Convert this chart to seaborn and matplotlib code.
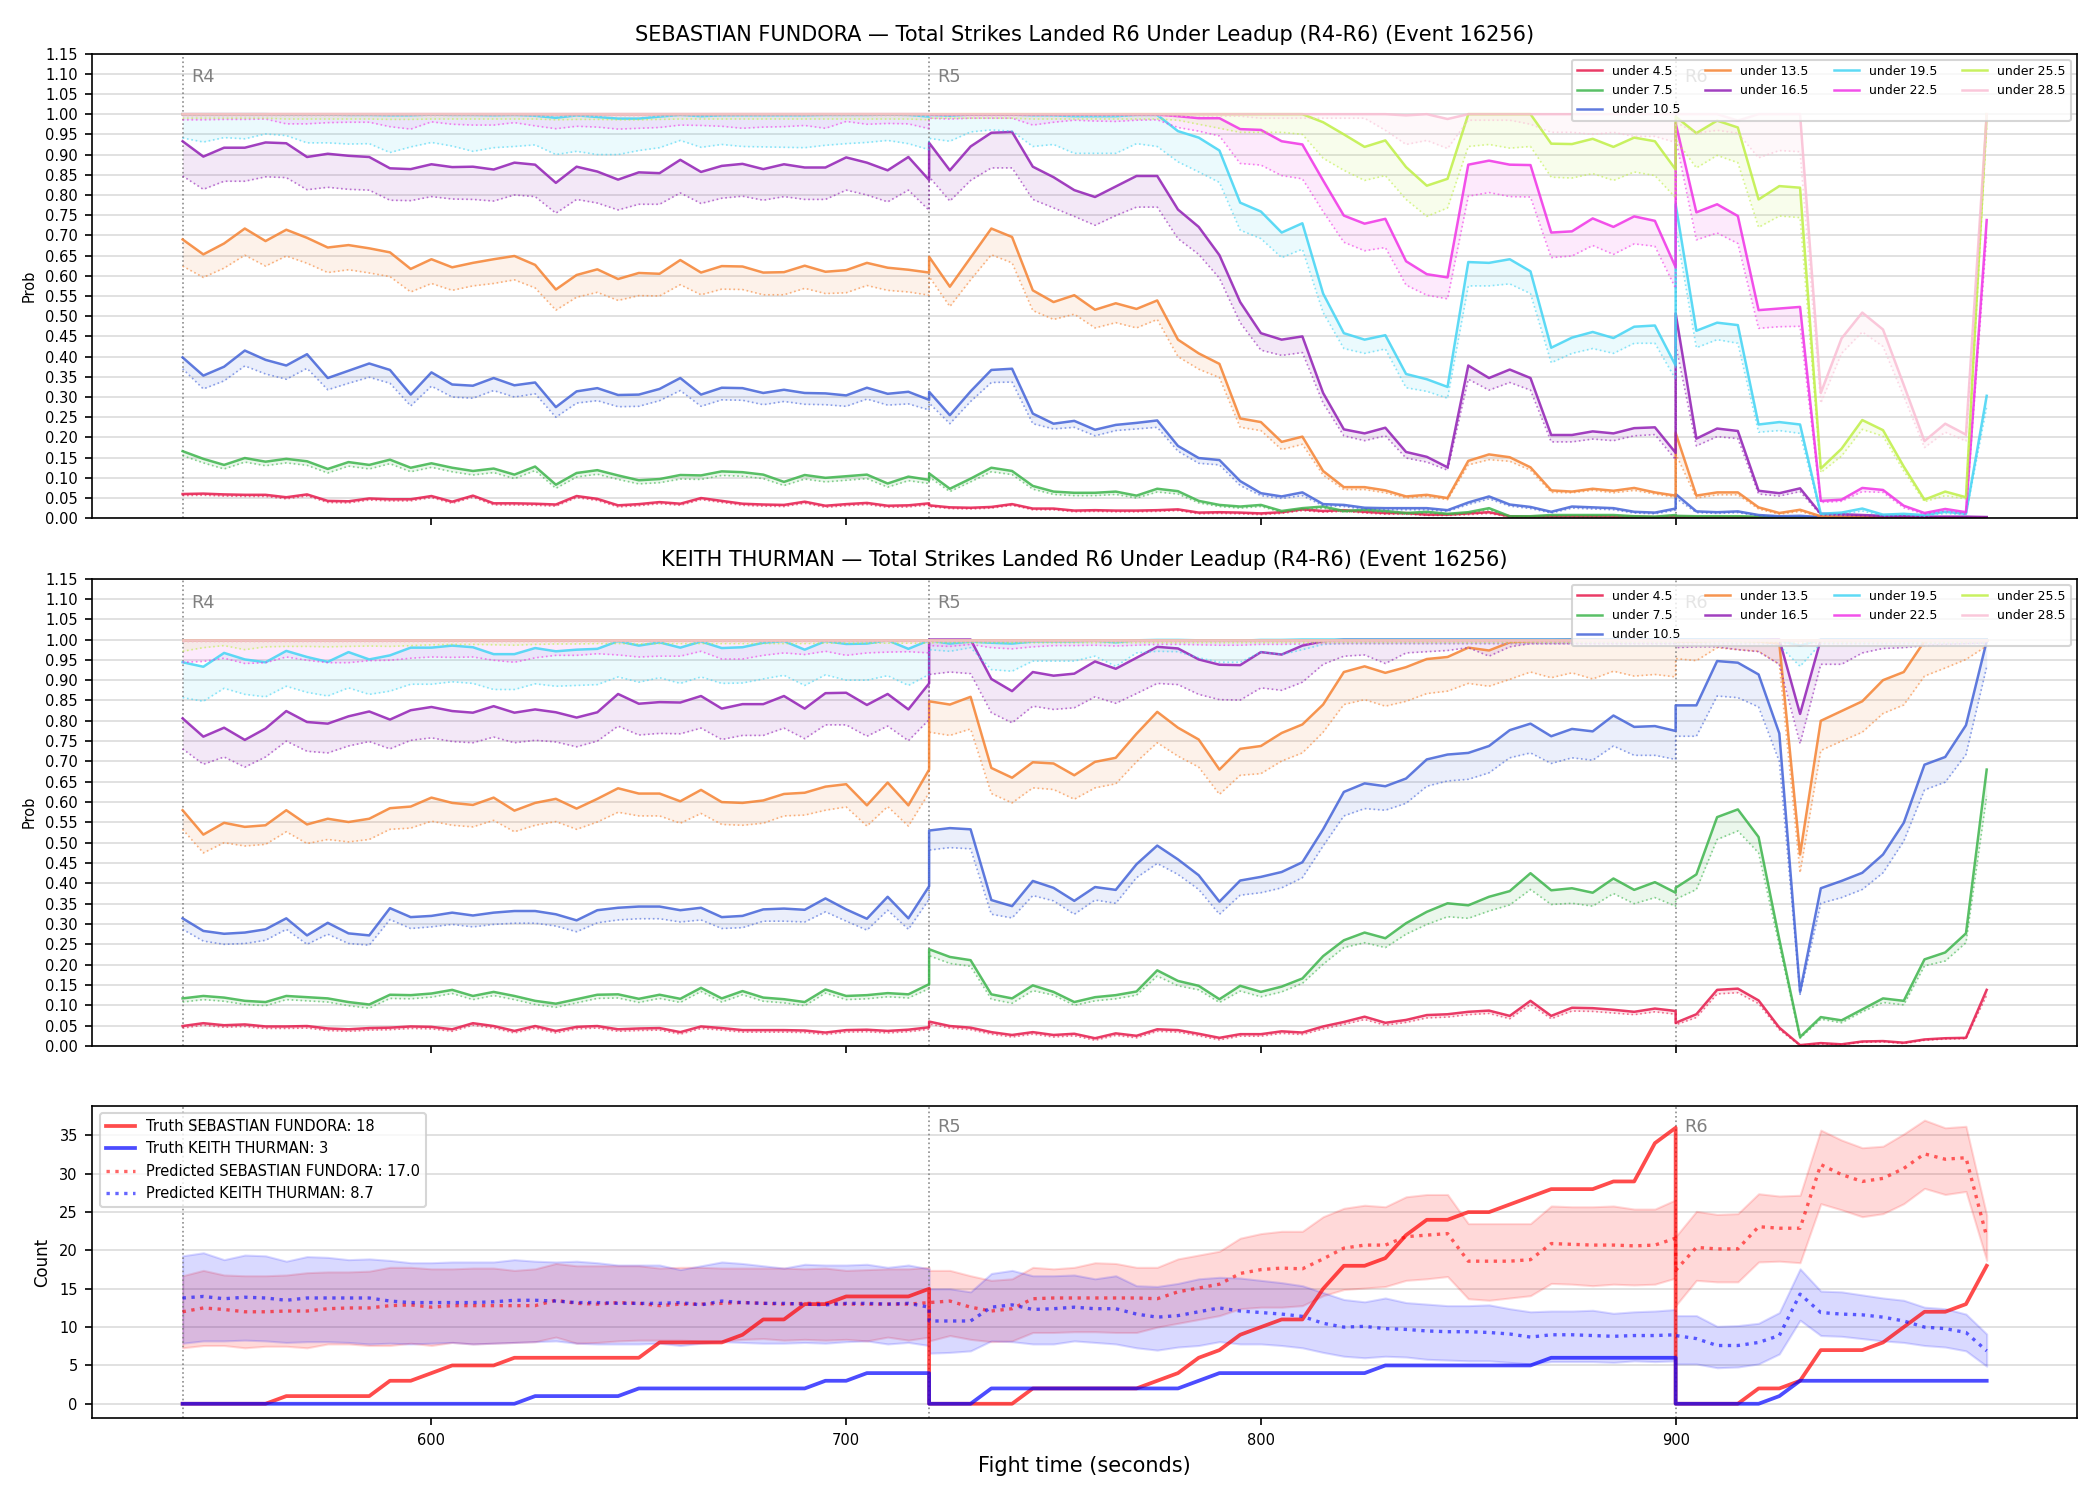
#!/usr/bin/env python3
"""
Total strikes landed R6 under leadup (R4-R6), event 16256
"""

import numpy as np
import matplotlib
matplotlib.use("Agg")
import matplotlib.pyplot as plt
import matplotlib.transforms as mtransforms
from matplotlib.ticker import FormatStrFormatter
import seaborn as sns

# fight time in seconds (5 s steps, each round restarts at its first second)
t_r4 = list(range(540, 721, 5))
t_r5 = list(range(720, 901, 5))
t_r6 = list(range(900, 976, 5))
fight_time = t_r4 + t_r5 + t_r6

round_starts = [540, 720, 900]
round_names = ['R4', 'R5', 'R6']

thresholds = [4.5, 7.5, 10.5, 13.5, 16.5, 19.5, 22.5, 25.5, 28.5]
line_colors = ['#e6194b', '#3cb44b', '#4363d8', '#f58231', '#911eb4',
               '#42d4f4', '#f032e6', '#bfef45', '#fabed4']

# ---------------- SEBASTIAN FUNDORA: prob (upper solid / lower dotted) ----------------
sf_hi_45 = ([.060, .061, .059, .058, .058, .052, .059, .043, .042, .049, .047, .047, .055, .041, .056, .037, .037, .036, .034, .055, .048, .032, .035, .040, .036, .050, .043, .036, .034, .033, .041, .031, .035, .038, .031, .032, .037]
            + [.032, .027, .026, .028, .035, .024, .024, .019, .020, .019, .019, .020, .022, .014, .015, .014, .012, .015, .022, .018, .020, .016, .013, .013, .009, .009, .012, .015, .005, .004, .005, .005, .005, .004, .004, .003, .005]
            + [.004, .003, .003, .003, .002, .002, .002, .001, .001, .001, .001, .001, .001, .001, .001, .001])
sf_lo_45 = ([.056, .057, .055, .054, .054, .048, .055, .039, .038, .045, .043, .043, .051, .037, .052, .033, .033, .032, .030, .051, .044, .028, .031, .036, .032, .046, .039, .032, .030, .029, .037, .027, .031, .034, .027, .028, .033]
            + [.029, .024, .023, .025, .032, .021, .021, .016, .017, .016, .016, .017, .019, .011, .012, .011, .009, .012, .019, .015, .017, .013, .010, .010, .007, .007, .009, .012, .003, .002, .003, .003, .003, .002, .002, .001, .003]
            + [.002, .001, .001, .001, .001, .001, .001, .000, .000, .000, .000, .000, .000, .000, .000, .000])

sf_hi_75 = ([.166, .147, .132, .149, .140, .147, .141, .122, .139, .132, .145, .125, .136, .125, .117, .123, .108, .128, .083, .112, .119, .106, .094, .097, .107, .106, .116, .114, .108, .090, .107, .100, .104, .108, .086, .103, .095]
            + [.111, .073, .098, .125, .117, .080, .066, .063, .063, .066, .056, .073, .067, .043, .033, .029, .033, .018, .025, .029, .018, .021, .018, .013, .016, .011, .015, .025, .005, .005, .008, .008, .008, .008, .005, .004, .008]
            + [.006, .005, .005, .005, .004, .003, .002, .002, .002, .002, .002, .002, .002, .002, .002, .002])
sf_lo_75 = ([.155, .137, .122, .139, .130, .137, .131, .112, .129, .122, .135, .115, .126, .115, .107, .113, .098, .118, .074, .102, .109, .096, .085, .088, .097, .096, .106, .104, .098, .081, .097, .090, .094, .098, .077, .093, .086]
            + [.102, .066, .090, .115, .108, .072, .059, .056, .056, .059, .050, .065, .060, .038, .029, .025, .029, .015, .021, .025, .015, .018, .015, .010, .013, .009, .012, .021, .003, .003, .006, .006, .006, .006, .003, .002, .006]
            + [.004, .003, .003, .003, .002, .002, .001, .001, .001, .001, .001, .001, .001, .001, .001, .001])

sf_hi_105 = ([.398, .353, .375, .415, .392, .378, .406, .347, .365, .383, .367, .306, .361, .331, .328, .347, .329, .336, .275, .314, .322, .305, .306, .320, .347, .306, .323, .322, .310, .318, .310, .309, .304, .323, .308, .313, .293]
             + [.313, .255, .314, .367, .370, .259, .234, .241, .219, .231, .236, .242, .179, .149, .144, .092, .062, .054, .064, .035, .033, .026, .025, .025, .025, .020, .039, .054, .034, .028, .016, .029, .027, .025, .016, .014, .024]
             + [.060, .017, .015, .017, .008, .005, .006, .003, .003, .002, .002, .002, .002, .002, .002, .001])
sf_lo_105 = ([.370, .320, .340, .377, .357, .344, .371, .318, .334, .349, .334, .278, .327, .300, .297, .316, .300, .308, .250, .285, .291, .276, .277, .291, .316, .277, .293, .292, .281, .289, .282, .281, .277, .295, .280, .283, .268]
             + [.285, .234, .289, .336, .337, .234, .221, .225, .204, .217, .221, .225, .166, .136, .132, .081, .056, .049, .056, .031, .029, .022, .021, .021, .021, .017, .034, .048, .030, .024, .013, .025, .023, .021, .013, .011, .020]
             + [.050, .014, .012, .014, .006, .003, .004, .002, .002, .001, .001, .001, .001, .001, .001, .000])

sf_hi_135 = ([.690, .653, .680, .717, .686, .714, .694, .670, .676, .668, .658, .617, .641, .621, .632, .641, .649, .627, .566, .602, .616, .592, .607, .605, .639, .608, .624, .623, .608, .609, .625, .610, .614, .632, .620, .615, .608]
             + [.647, .573, .645, .717, .696, .564, .535, .552, .516, .532, .518, .539, .442, .408, .382, .247, .238, .189, .202, .117, .077, .077, .069, .054, .058, .050, .142, .158, .151, .126, .069, .066, .073, .068, .075, .064, .056]
             + [.211, .056, .064, .064, .027, .013, .021, .005, .004, .003, .003, .003, .002, .002, .002, .002])
sf_lo_135 = ([.624, .596, .619, .651, .624, .649, .631, .608, .615, .607, .598, .560, .581, .564, .575, .581, .590, .570, .515, .547, .559, .539, .551, .550, .578, .553, .567, .566, .553, .553, .569, .556, .558, .576, .564, .560, .552]
             + [.598, .524, .590, .652, .632, .514, .492, .505, .471, .484, .471, .492, .400, .369, .348, .225, .217, .170, .183, .107, .071, .071, .063, .050, .054, .046, .132, .145, .141, .119, .064, .063, .069, .063, .069, .060, .052]
             + [.160, .050, .058, .058, .023, .010, .017, .003, .002, .002, .002, .002, .001, .001, .001, .001])

sf_hi_165 = ([.933, .895, .917, .917, .930, .928, .894, .902, .897, .894, .866, .864, .876, .869, .870, .863, .880, .875, .830, .870, .858, .838, .856, .854, .887, .857, .872, .877, .864, .876, .868, .868, .893, .880, .861, .894, .837]
             + [.929, .861, .920, .954, .956, .870, .844, .812, .795, .821, .847, .847, .764, .721, .651, .535, .458, .442, .450, .310, .220, .210, .224, .164, .152, .126, .378, .347, .368, .347, .206, .206, .215, .210, .223, .225, .162]
             + [.507, .197, .222, .216, .068, .062, .074, .011, .010, .008, .006, .005, .004, .004, .004, .003])
sf_lo_165 = ([.847, .814, .834, .834, .845, .843, .813, .819, .814, .812, .787, .786, .796, .790, .789, .785, .800, .796, .755, .789, .780, .763, .777, .777, .805, .779, .792, .797, .787, .796, .789, .789, .812, .800, .783, .812, .762]
             + [.845, .785, .836, .867, .867, .789, .768, .747, .725, .749, .770, .770, .692, .653, .594, .484, .416, .403, .410, .285, .204, .192, .204, .149, .139, .119, .344, .317, .336, .317, .189, .189, .196, .192, .204, .207, .145]
             + [.430, .179, .202, .197, .060, .055, .066, .008, .007, .006, .004, .003, .003, .003, .003, .002])

sf_hi_195 = ([1.0, 1.0, 1.0, 1.0, 1.0, .999, .999, .999, .998, .998, .997, .997, .999, .998, .998, .997, .998, .996, .991, .997, .993, .989, .989, .994, .998, .995, .997, .997, .997, .997, .997, .998, .998, .998, .999, .998, .994]
             + [.998, .996, .999, .999, .999, .997, .997, .995, .995, .995, .998, .998, .958, .942, .910, .781, .759, .707, .730, .556, .458, .442, .453, .357, .344, .325, .634, .632, .641, .611, .422, .447, .461, .446, .474, .477, .378]
             + [.777, .464, .484, .478, .232, .238, .232, .011, .014, .024, .009, .011, .008, .016, .011, .303])
sf_lo_195 = ([.941, .931, .942, .939, .951, .947, .929, .929, .926, .927, .905, .919, .930, .921, .908, .917, .920, .924, .900, .908, .900, .900, .910, .917, .935, .918, .925, .920, .919, .918, .917, .923, .927, .930, .935, .927, .912]
             + [.940, .933, .956, .961, .958, .920, .925, .903, .903, .903, .927, .920, .882, .857, .831, .713, .692, .645, .666, .509, .420, .408, .419, .323, .314, .297, .575, .575, .580, .556, .385, .408, .420, .408, .433, .433, .344]
             + [.720, .422, .442, .433, .213, .217, .210, .008, .010, .018, .006, .008, .005, .012, .008, .276])

sf_hi_225 = ([1.0, 1.0, 1.0, 1.0, 1.0, 1.0, 1.0, 1.0, 1.0, 1.0, 1.0, 1.0, 1.0, 1.0, 1.0, 1.0, 1.0, 1.0, 1.0, 1.0, 1.0, 1.0, 1.0, 1.0, 1.0, 1.0, 1.0, 1.0, 1.0, 1.0, 1.0, 1.0, 1.0, 1.0, 1.0, 1.0, 1.0]
             + [.999, .999, .999, .999, .999, .999, .999, .999, .999, .999, .999, .999, .995, .990, .990, .963, .961, .933, .925, .836, .749, .729, .741, .636, .604, .596, .875, .885, .875, .874, .707, .710, .742, .721, .747, .736, .621]
             + [.978, .757, .777, .748, .515, .519, .523, .043, .046, .075, .070, .031, .013, .023, .015, .738])
sf_lo_225 = ([.986, .986, .987, .987, .988, .976, .976, .979, .980, .980, .969, .963, .981, .975, .973, .973, .979, .971, .964, .970, .968, .963, .965, .967, .973, .972, .970, .965, .968, .969, .972, .965, .982, .975, .977, .976, .964]
             + [.990, .988, .990, .990, .990, .973, .980, .985, .983, .982, .985, .986, .967, .958, .946, .878, .874, .848, .840, .759, .683, .662, .670, .577, .552, .543, .797, .806, .796, .795, .645, .649, .675, .653, .679, .673, .569]
             + [.940, .689, .706, .680, .470, .474, .475, .039, .042, .066, .064, .026, .010, .018, .010, .700])

sf_hi_255 = ([1.0, 1.0, 1.0, 1.0, 1.0, 1.0, 1.0, 1.0, 1.0, 1.0, 1.0, 1.0, 1.0, 1.0, 1.0, 1.0, 1.0, 1.0, 1.0, 1.0, 1.0, 1.0, 1.0, 1.0, 1.0, 1.0, 1.0, 1.0, 1.0, 1.0, 1.0, 1.0, 1.0, 1.0, 1.0, 1.0, 1.0]
             + [1.0, 1.0, 1.0, 1.0, 1.0, 1.0, 1.0, 1.0, 1.0, 1.0, 1.0, 1.0, 1.0, 1.0, 1.0, 1.0, 1.0, 1.0, 1.0, .980, .950, .919, .935, .869, .823, .840, 1.0, 1.0, 1.0, 1.0, .927, .926, .939, .919, .942, .933, .863]
             + [.994, .953, .984, .967, .789, .822, .818, .123, .172, .243, .218, .128, .046, .066, .052, 1.0])
sf_lo_255 = ([.990, .990, .990, .990, .990, .988, .988, .988, .988, .988, .987, .987, .988, .988, .988, .988, .988, .988, .986, .987, .987, .986, .986, .987, .988, .988, .988, .988, .988, .988, .988, .988, .988, .988, .988, .988, .986]
             + [.990, .990, .990, .990, .990, .988, .988, .988, .988, .988, .988, .988, .985, .975, .965, .955, .955, .955, .950, .891, .861, .836, .848, .789, .747, .768, .920, .925, .916, .920, .844, .842, .853, .836, .857, .848, .793]
             + [.937, .867, .898, .880, .720, .748, .744, .113, .154, .220, .203, .117, .041, .056, .048, .966])

sf_hi_285 = ([1.0, 1.0, 1.0, 1.0, 1.0, 1.0, 1.0, 1.0, 1.0, 1.0, 1.0, 1.0, 1.0, 1.0, 1.0, 1.0, 1.0, 1.0, 1.0, 1.0, 1.0, 1.0, 1.0, 1.0, 1.0, 1.0, 1.0, 1.0, 1.0, 1.0, 1.0, 1.0, 1.0, 1.0, 1.0, 1.0, 1.0]
             + [1.0, 1.0, 1.0, 1.0, 1.0, 1.0, 1.0, 1.0, 1.0, 1.0, 1.0, 1.0, 1.0, 1.0, 1.0, 1.0, 1.0, 1.0, 1.0, 1.0, 1.0, 1.0, 1.0, .997, 1.0, .988, 1.0, 1.0, 1.0, 1.0, 1.0, 1.0, 1.0, 1.0, 1.0, 1.0, 1.0]
             + [1.0, 1.0, 1.0, .984, 1.0, 1.0, 1.0, .310, .445, .509, .467, .330, .191, .234, .207, 1.0])
sf_lo_285 = ([.995, .995, .995, .995, .995, .995, .995, .995, .995, .995, .995, .995, .995, .995, .995, .995, .995, .995, .995, .995, .995, .995, .995, .995, .995, .995, .995, .995, .995, .995, .995, .995, .995, .995, .995, .995, .995]
             + [.995, .995, .995, .995, .995, .995, .995, .995, .995, .995, .995, .995, .995, .995, .995, .995, .990, .990, .990, .990, .990, .990, .960, .925, .935, .915, .985, .985, .985, .975, .955, .955, .950, .955, .945, .945, .930]
             + [.980, .953, .960, .953, .892, .910, .907, .285, .408, .461, .425, .302, .175, .213, .191, .966])

# ---------------- KEITH THURMAN: prob (upper solid / lower dotted) ----------------
kt_hi_45 = ([.049, .056, .051, .053, .048, .048, .049, .043, .041, .044, .045, .048, .047, .041, .056, .049, .037, .049, .037, .047, .049, .041, .043, .044, .034, .048, .044, .039, .039, .039, .038, .033, .039, .040, .037, .040, .046]
            + [.060, .049, .045, .034, .027, .034, .027, .030, .019, .031, .025, .041, .039, .030, .020, .029, .029, .036, .033, .048, .059, .072, .057, .064, .076, .078, .084, .087, .074, .111, .074, .094, .093, .089, .084, .092, .086]
            + [.057, .078, .138, .141, .112, .045, .002, .007, .004, .011, .012, .008, .016, .019, .020, .138])
kt_lo_45 = ([.044, .051, .046, .048, .043, .043, .044, .038, .036, .039, .040, .043, .042, .036, .051, .044, .032, .044, .032, .042, .044, .036, .038, .039, .029, .043, .039, .034, .034, .034, .033, .028, .034, .035, .032, .035, .041]
            + [.054, .044, .040, .029, .022, .029, .022, .025, .014, .026, .020, .036, .034, .025, .015, .024, .024, .031, .028, .042, .053, .065, .051, .058, .069, .071, .077, .080, .067, .102, .067, .086, .085, .081, .077, .084, .078]
            + [.052, .070, .128, .131, .104, .040, .001, .005, .003, .009, .010, .006, .014, .017, .018, .125])

kt_hi_75 = ([.117, .123, .119, .111, .108, .123, .120, .117, .108, .102, .126, .125, .129, .138, .123, .133, .123, .111, .104, .115, .126, .127, .116, .126, .116, .143, .117, .135, .119, .115, .108, .139, .123, .125, .130, .127, .152]
            + [.238, .219, .211, .127, .117, .149, .133, .108, .120, .125, .134, .186, .160, .148, .115, .148, .133, .146, .166, .221, .260, .279, .265, .302, .330, .351, .346, .367, .381, .425, .383, .388, .377, .412, .384, .403, .377]
            + [.389, .422, .563, .582, .514, .262, .022, .071, .063, .090, .117, .111, .213, .230, .277, .680])
kt_lo_75 = ([.108, .114, .110, .102, .099, .114, .111, .108, .099, .093, .117, .116, .120, .129, .114, .124, .114, .102, .095, .106, .117, .118, .107, .117, .107, .134, .108, .126, .110, .106, .099, .130, .114, .116, .121, .118, .141]
            + [.222, .203, .196, .115, .105, .136, .125, .100, .111, .116, .125, .172, .148, .138, .107, .135, .121, .133, .154, .201, .242, .254, .242, .275, .299, .318, .314, .332, .347, .385, .348, .351, .344, .375, .350, .365, .344]
            + [.361, .385, .508, .529, .475, .246, .019, .066, .057, .084, .107, .101, .197, .209, .254, .615])

kt_hi_105 = ([.314, .283, .276, .279, .287, .314, .272, .303, .277, .272, .339, .317, .320, .328, .321, .328, .332, .332, .324, .309, .334, .340, .343, .343, .334, .340, .317, .320, .336, .338, .335, .363, .336, .313, .367, .314, .393]
             + [.530, .536, .533, .359, .344, .406, .389, .357, .391, .384, .447, .493, .459, .420, .355, .407, .416, .428, .452, .533, .625, .646, .639, .658, .705, .717, .721, .738, .777, .793, .762, .780, .774, .813, .785, .787, .775]
             + [.838, .838, .947, .943, .914, .769, .133, .388, .406, .426, .471, .549, .692, .711, .789, .996])
kt_lo_105 = ([.287, .258, .250, .252, .260, .287, .250, .275, .252, .248, .311, .289, .293, .299, .293, .299, .302, .302, .295, .281, .303, .310, .313, .313, .305, .310, .289, .291, .307, .307, .305, .330, .307, .285, .334, .287, .361]
             + [.482, .488, .485, .324, .315, .370, .357, .324, .359, .351, .414, .449, .422, .385, .324, .371, .377, .389, .414, .492, .566, .584, .580, .597, .639, .652, .656, .672, .709, .721, .695, .709, .703, .738, .715, .715, .705]
             + [.762, .762, .861, .857, .834, .700, .127, .351, .365, .385, .426, .504, .630, .649, .717, .933])

kt_hi_135 = ([.580, .520, .549, .539, .543, .580, .545, .559, .551, .559, .585, .589, .611, .598, .593, .611, .579, .598, .608, .584, .608, .634, .621, .621, .602, .630, .600, .598, .604, .620, .623, .638, .644, .592, .648, .592, .680]
             + [.848, .840, .859, .684, .660, .698, .695, .666, .699, .709, .768, .822, .783, .754, .680, .731, .738, .770, .791, .840, .920, .934, .918, .932, .952, .957, .980, .973, .993, .996, .998, 1.0, 1.0, 1.0, 1.0, 1.0, 1.0]
             + [.995, .995, .997, .997, .995, .990, .471, .800, .824, .848, .900, .920, .996, 1.0, 1.0, 1.0])
kt_lo_135 = ([.533, .475, .500, .492, .496, .527, .498, .508, .502, .508, .533, .536, .553, .543, .539, .555, .527, .543, .552, .533, .551, .575, .566, .566, .548, .572, .545, .543, .548, .566, .568, .580, .588, .541, .589, .541, .623]
             + [.772, .764, .780, .621, .598, .635, .631, .607, .635, .645, .699, .746, .713, .686, .619, .666, .670, .701, .721, .772, .840, .852, .836, .848, .867, .873, .892, .885, .902, .920, .906, .918, .903, .922, .910, .914, .908]
             + [.953, .948, .980, .975, .971, .939, .426, .727, .750, .772, .818, .839, .910, .930, .951, .984])

kt_hi_165 = ([.806, .761, .783, .753, .781, .824, .797, .793, .811, .823, .803, .826, .834, .824, .820, .836, .820, .828, .821, .808, .821, .866, .842, .846, .845, .861, .830, .841, .841, .861, .830, .868, .869, .839, .866, .828, .892]
             + [1.0, 1.0, 1.0, .903, .873, .920, .911, .916, .946, .928, .955, .982, .978, .951, .938, .937, .969, .963, .985, .996, 1.0, 1.0, 1.0, 1.0, 1.0, 1.0, 1.0, 1.0, 1.0, 1.0, 1.0, 1.0, 1.0, 1.0, 1.0, 1.0, 1.0]
             + [1.0, 1.0, 1.0, 1.0, 1.0, 1.0, .817, 1.0, 1.0, 1.0, 1.0, 1.0, 1.0, 1.0, 1.0, 1.0])
kt_lo_165 = ([.731, .693, .711, .686, .711, .750, .725, .721, .738, .749, .731, .752, .758, .749, .746, .760, .746, .752, .748, .736, .750, .787, .765, .769, .768, .782, .754, .764, .764, .782, .756, .790, .790, .762, .787, .751, .803]
             + [.914, .920, .916, .820, .795, .836, .828, .832, .859, .843, .867, .892, .889, .865, .852, .851, .881, .875, .895, .939, .959, .962, .941, .967, .970, .973, .980, .959, .982, .990, .990, .990, .990, .990, .990, .990, .990]
             + [.980, .982, .982, .975, .970, .939, .744, .939, .939, .967, .978, .980, .985, .988, .990, .992])

kt_hi_195 = ([.944, .933, .967, .951, .944, .972, .957, .945, .969, .951, .961, .980, .980, .985, .981, .964, .964, .979, .971, .975, .977, .996, .985, .993, .980, .995, .979, .981, .992, .996, .975, .996, .989, .990, .998, .977, .998]
             + [.998, .990, .995, .992, .990, .995, .995, .995, .997, .993, .998, .999, .999, .998, .997, .997, .999, .999, 1.0, 1.0, 1.0, 1.0, 1.0, 1.0, 1.0, 1.0, 1.0, 1.0, 1.0, 1.0, 1.0, 1.0, 1.0, 1.0, 1.0, 1.0, 1.0]
             + [1.0, 1.0, 1.0, 1.0, 1.0, .998, .985, 1.0, 1.0, 1.0, 1.0, 1.0, 1.0, 1.0, 1.0, 1.0])
kt_lo_195 = ([.857, .848, .880, .865, .859, .885, .870, .861, .881, .865, .873, .890, .890, .896, .892, .877, .877, .891, .885, .887, .889, .908, .895, .906, .892, .908, .892, .893, .903, .912, .887, .913, .900, .900, .911, .887, .914]
             + [.975, .971, .980, .926, .922, .947, .947, .947, .959, .934, .967, .971, .970, .955, .944, .944, .969, .963, .975, .988, .990, .990, .990, .990, .990, .990, .990, .990, .990, .990, .990, .990, .990, .990, .990, .990, .990]
             + [.990, .990, .990, .990, .990, .985, .934, .990, .990, .990, .990, .990, .990, .990, .990, .990])

kt_hi_225 = ([1.0, 1.0, 1.0, 1.0, 1.0, 1.0, 1.0, 1.0, 1.0, 1.0, 1.0, 1.0, 1.0, 1.0, 1.0, 1.0, 1.0, 1.0, 1.0, 1.0, 1.0, 1.0, 1.0, 1.0, 1.0, 1.0, 1.0, 1.0, 1.0, 1.0, 1.0, 1.0, 1.0, 1.0, 1.0, 1.0, 1.0]
             + [1.0, 1.0, 1.0, 1.0, 1.0, 1.0, 1.0, 1.0, 1.0, 1.0, 1.0, 1.0, 1.0, 1.0, 1.0, 1.0, 1.0, 1.0, 1.0, 1.0, 1.0, 1.0, 1.0, 1.0, 1.0, 1.0, 1.0, 1.0, 1.0, 1.0, 1.0, 1.0, 1.0, 1.0, 1.0, 1.0, 1.0]
             + [1.0, 1.0, 1.0, 1.0, 1.0, 1.0, 1.0, 1.0, 1.0, 1.0, 1.0, 1.0, 1.0, 1.0, 1.0, 1.0])
kt_lo_225 = ([.944, .946, .954, .941, .943, .957, .949, .943, .943, .948, .949, .954, .957, .956, .957, .949, .944, .955, .961, .961, .965, .962, .957, .959, .959, .971, .952, .952, .961, .967, .963, .971, .961, .967, .969, .970, .967]
             + [.985, .983, .988, .980, .977, .982, .985, .985, .986, .984, .986, .988, .988, .987, .986, .986, .988, .988, .989, .990, .990, .990, .990, .990, .990, .990, .990, .990, .990, .990, .990, .990, .990, .990, .990, .990, .990]
             + [.990, .990, .990, .990, .990, .990, .990, .990, .990, .990, .990, .990, .990, .990, .990, .990])

kt_hi_255 = ([1.0, 1.0, 1.0, 1.0, 1.0, 1.0, 1.0, 1.0, 1.0, 1.0, 1.0, 1.0, 1.0, 1.0, 1.0, 1.0, 1.0, 1.0, 1.0, 1.0, 1.0, 1.0, 1.0, 1.0, 1.0, 1.0, 1.0, 1.0, 1.0, 1.0, 1.0, 1.0, 1.0, 1.0, 1.0, 1.0, 1.0]
             + [1.0, 1.0, 1.0, 1.0, 1.0, 1.0, 1.0, 1.0, 1.0, 1.0, 1.0, 1.0, 1.0, 1.0, 1.0, 1.0, 1.0, 1.0, 1.0, 1.0, 1.0, 1.0, 1.0, 1.0, 1.0, 1.0, 1.0, 1.0, 1.0, 1.0, 1.0, 1.0, 1.0, 1.0, 1.0, 1.0, 1.0]
             + [1.0, 1.0, 1.0, 1.0, 1.0, 1.0, 1.0, 1.0, 1.0, 1.0, 1.0, 1.0, 1.0, 1.0, 1.0, 1.0])
kt_lo_255 = ([.971, .980, .985, .975, .982, .983, .983, .982, .983, .984, .983, .985, .987, .988, .988, .987, .986, .988, .989, .989, .990, .990, .989, .990, .990, .990, .990, .990, .990, .990, .990, .991, .991, .991, .991, .991, .991]
             + [.992, .992, .992, .992, .992, .992, .992, .992, .992, .992, .992, .992, .992, .992, .992, .992, .992, .992, .992, .992, .992, .992, .992, .992, .992, .992, .992, .992, .992, .992, .992, .992, .992, .992, .992, .992, .992]
             + [.992, .992, .992, .992, .992, .992, .992, .992, .992, .992, .992, .992, .992, .992, .992, .992])

kt_hi_285 = list(kt_hi_255)
kt_lo_285 = ([.995, .995, .995, .995, .995, .995, .995, .995, .995, .995, .995, .995, .995, .995, .995, .995, .995, .995, .995, .995, .995, .995, .995, .995, .995, .995, .995, .995, .995, .995, .995, .995, .995, .995, .995, .995, .995]
             + [.995, .995, .995, .995, .995, .995, .995, .995, .995, .995, .995, .995, .995, .995, .995, .995, .995, .995, .995, .995, .995, .995, .995, .995, .995, .995, .995, .995, .995, .995, .995, .995, .995, .995, .995, .995, .995]
             + [.995, .995, .995, .995, .995, .995, .995, .995, .995, .995, .995, .995, .995, .995, .995, .995])

# ---------------- Counts ----------------
sf_truth = ([0, 0, 0, 0, 0, 1, 1, 1, 1, 1, 3, 3, 4, 5, 5, 5, 6, 6, 6, 6, 6, 6, 6, 8, 8, 8, 8, 9, 11, 11, 13, 13, 14, 14, 14, 14, 15]
            + [0, 0, 0, 0, 0, 2, 2, 2, 2, 2, 2, 3, 4, 6, 7, 9, 10, 11, 11, 15, 18, 18, 19, 22, 24, 24, 25, 25, 26, 27, 28, 28, 28, 29, 29, 34, 36]
            + [0, 0, 0, 0, 2, 2, 3, 7, 7, 7, 8, 10, 12, 12, 13, 18])
kt_truth = ([0, 0, 0, 0, 0, 0, 0, 0, 0, 0, 0, 0, 0, 0, 0, 0, 0, 1, 1, 1, 1, 1, 2, 2, 2, 2, 2, 2, 2, 2, 2, 3, 3, 4, 4, 4, 4]
            + [0, 0, 0, 2, 2, 2, 2, 2, 2, 2, 2, 2, 2, 3, 4, 4, 4, 4, 4, 4, 4, 4, 5, 5, 5, 5, 5, 5, 5, 5, 6, 6, 6, 6, 6, 6, 6]
            + [0, 0, 0, 0, 0, 1, 3, 3, 3, 3, 3, 3, 3, 3, 3, 3])

sf_pred = ([12.0, 12.5, 12.3, 12.0, 12.0, 12.1, 12.1, 12.4, 12.5, 12.5, 12.8, 12.9, 12.6, 12.8, 12.8, 12.8, 12.8, 12.8, 13.5, 13.1, 13.0, 13.2, 13.1, 12.8, 13.0, 13.0, 13.1, 13.2, 13.1, 13.0, 13.1, 13.1, 13.0, 13.0, 13.0, 13.0, 13.2]
           + [13.2, 13.4, 12.6, 12.1, 12.4, 13.7, 13.8, 13.8, 13.8, 13.8, 13.8, 13.7, 14.6, 15.1, 15.6, 17.0, 17.5, 17.7, 17.6, 18.9, 20.3, 20.7, 20.7, 21.8, 22.0, 22.2, 18.6, 18.6, 18.6, 18.8, 20.9, 20.8, 20.7, 20.7, 20.6, 20.7, 21.6]
           + [17.4, 20.4, 20.2, 20.2, 23.1, 22.9, 22.9, 31.2, 29.9, 29.0, 29.4, 30.7, 32.6, 31.9, 32.1, 21.8])
kt_pred = ([13.8, 14.0, 13.7, 13.9, 13.8, 13.5, 13.8, 13.8, 13.8, 13.8, 13.4, 13.2, 13.2, 13.2, 13.2, 13.3, 13.5, 13.5, 13.4, 13.2, 13.2, 13.1, 13.1, 13.1, 13.2, 12.9, 13.4, 13.2, 13.1, 13.1, 13.0, 12.9, 13.1, 13.1, 13.0, 13.1, 12.6]
           + [10.8, 10.8, 10.8, 12.6, 12.9, 12.3, 12.4, 12.6, 12.4, 12.4, 11.7, 11.3, 11.5, 12.0, 12.5, 12.1, 11.9, 11.7, 11.4, 10.5, 10.0, 10.1, 9.8, 9.7, 9.5, 9.4, 9.4, 9.3, 9.1, 8.7, 9.0, 9.0, 8.9, 8.8, 8.9, 8.9, 9.0]
           + [8.9, 8.5, 7.6, 7.6, 8.0, 8.9, 14.3, 11.9, 11.7, 11.6, 11.3, 10.8, 10.0, 9.8, 9.3, 6.9])

sf_band_hi = ([16.7, 17.4, 16.8, 16.7, 16.7, 16.8, 17.1, 17.2, 17.2, 17.3, 17.8, 17.8, 17.6, 17.6, 17.7, 17.7, 17.4, 17.6, 18.3, 18.0, 18.0, 18.0, 18.0, 17.7, 17.8, 17.8, 17.7, 17.7, 17.7, 17.7, 17.6, 17.7, 17.4, 17.5, 17.6, 17.6, 17.8]
              + [17.4, 17.4, 16.7, 16.1, 16.3, 17.8, 17.6, 17.8, 18.4, 18.3, 17.8, 17.8, 18.9, 19.4, 19.9, 21.6, 22.2, 22.5, 22.5, 24.4, 25.5, 25.9, 25.7, 27.0, 27.3, 27.3, 23.5, 23.5, 23.5, 23.5, 25.8, 25.7, 25.7, 25.8, 25.4, 25.4, 26.6]
              + [21.8, 25.1, 24.7, 24.8, 27.4, 27.1, 27.2, 35.7, 34.4, 33.4, 33.6, 35.2, 37.0, 36.0, 36.2, 24.6])
sf_band_lo = ([7.3, 7.6, 7.6, 7.3, 7.5, 7.5, 7.3, 7.8, 7.8, 7.6, 7.6, 7.9, 7.6, 8.0, 7.8, 7.9, 8.0, 8.1, 8.7, 7.9, 8.0, 8.2, 8.3, 8.3, 8.3, 8.2, 8.2, 8.4, 8.5, 8.3, 8.4, 8.3, 8.4, 8.2, 8.7, 8.3, 8.7]
              + [8.2, 8.9, 8.4, 8.1, 8.2, 9.3, 9.3, 9.4, 9.4, 9.3, 9.3, 10.0, 10.5, 11.0, 11.5, 12.4, 12.6, 12.6, 12.8, 14.1, 14.9, 15.1, 15.3, 16.1, 16.3, 16.6, 13.7, 13.5, 13.8, 14.1, 15.7, 15.6, 15.4, 15.6, 15.5, 15.6, 16.4]
              + [12.8, 16.1, 15.9, 15.9, 18.5, 18.6, 18.4, 26.1, 25.3, 24.4, 24.8, 26.1, 28.1, 27.3, 27.7, 18.7])
kt_band_hi = ([19.3, 19.7, 18.8, 19.4, 19.3, 18.6, 19.2, 19.1, 18.8, 18.9, 18.7, 18.4, 18.4, 18.5, 18.5, 18.5, 18.8, 18.6, 18.5, 18.6, 18.4, 18.1, 18.1, 18.1, 17.5, 18.0, 18.5, 18.3, 18.0, 17.7, 18.2, 18.1, 18.1, 18.2, 17.8, 18.1, 17.6]
              + [15.0, 15.0, 14.6, 17.0, 17.4, 16.7, 16.7, 16.8, 16.3, 16.7, 15.4, 15.3, 15.7, 16.3, 16.5, 16.4, 16.1, 15.8, 15.4, 14.5, 13.6, 13.3, 13.8, 13.2, 13.0, 12.8, 12.8, 12.9, 12.4, 12.0, 12.1, 12.1, 12.2, 11.8, 12.0, 12.1, 12.3]
              + [11.5, 11.5, 10.1, 10.2, 10.5, 11.9, 17.6, 14.7, 14.6, 14.2, 13.8, 13.5, 12.6, 12.4, 11.7, 9.1])
kt_band_lo = ([7.9, 8.2, 8.2, 8.3, 8.2, 8.0, 8.1, 8.1, 8.0, 7.8, 7.9, 7.8, 7.9, 8.0, 7.8, 7.9, 8.0, 8.1, 8.2, 7.9, 7.8, 7.8, 7.8, 7.9, 7.6, 7.9, 8.1, 8.0, 7.9, 7.9, 8.0, 7.9, 8.1, 8.2, 7.8, 8.0, 7.6]
              + [6.6, 6.7, 6.9, 8.2, 8.1, 7.8, 7.8, 8.2, 8.0, 7.8, 7.3, 7.0, 7.4, 7.6, 8.1, 7.8, 7.8, 7.6, 7.3, 6.7, 6.2, 6.0, 6.2, 6.1, 5.8, 5.7, 5.6, 5.6, 5.4, 5.2, 5.5, 5.5, 5.5, 5.4, 5.6, 5.5, 5.6]
              + [5.2, 5.2, 4.7, 4.8, 5.2, 6.5, 10.9, 8.9, 8.8, 8.5, 8.2, 8.0, 7.6, 7.4, 6.9, 4.9])

sf_upper = [sf_hi_45, sf_hi_75, sf_hi_105, sf_hi_135, sf_hi_165, sf_hi_195, sf_hi_225, sf_hi_255, sf_hi_285]
sf_lower = [sf_lo_45, sf_lo_75, sf_lo_105, sf_lo_135, sf_lo_165, sf_lo_195, sf_lo_225, sf_lo_255, sf_lo_285]
kt_upper = [kt_hi_45, kt_hi_75, kt_hi_105, kt_hi_135, kt_hi_165, kt_hi_195, kt_hi_225, kt_hi_255, kt_hi_285]
kt_lower = [kt_lo_45, kt_lo_75, kt_lo_105, kt_lo_135, kt_lo_165, kt_lo_195, kt_lo_225, kt_lo_255, kt_lo_285]

# sanity check on series length
all_series = sf_upper + sf_lower + kt_upper + kt_lower + [
    sf_truth, kt_truth, sf_pred, kt_pred, sf_band_hi, sf_band_lo, kt_band_hi, kt_band_lo]
bad = [i for i, v in enumerate(all_series) if len(v) != len(fight_time)]
if bad:
    raise SystemExit(f"length mismatch at series {bad}")

fig, axes = plt.subplots(3, 1, figsize=(14, 10), dpi=150, sharex=True)
fig.patch.set_facecolor('white')
axes[0].set_position([0.044, 0.6545, 0.945, 0.3098])
axes[1].set_position([0.044, 0.3027, 0.945, 0.3116])
axes[2].set_position([0.044, 0.0547, 0.945, 0.2080])


def mark_rounds(ax, ytext):
    trans = mtransforms.blended_transform_factory(ax.transData, ax.transAxes)
    for x, name in zip(round_starts, round_names):
        ax.axvline(x, color='gray', linestyle=':', linewidth=0.8, alpha=0.9, zorder=1)
        ax.text(x + 2, ytext, name, transform=trans, color='gray', fontsize=8.5,
                ha='left', va='top', zorder=2)


def draw_prob(ax, uppers, lowers, title):
    for thr, col, hi, lo in zip(thresholds, line_colors, uppers, lowers):
        ax.fill_between(fight_time, lo, hi, color=col, alpha=0.1, linewidth=0)
        sns.lineplot(x=fight_time, y=hi, ax=ax, color=col, linewidth=1.2, alpha=0.85,
                     estimator=None, sort=False, errorbar=None, label=f'under {thr}')
        sns.lineplot(x=fight_time, y=lo, ax=ax, color=col, linewidth=0.8, alpha=0.6,
                     linestyle=':', estimator=None, sort=False, errorbar=None, legend=False)
    ax.set_ylim(0, 1.15)
    ax.set_yticks(np.arange(0, 1.151, 0.05))
    ax.yaxis.set_major_formatter(FormatStrFormatter('%.2f'))
    ax.grid(axis='y', color='#cccccc', linewidth=0.8, alpha=0.7)
    ax.set_axisbelow(True)
    ax.set_ylabel('Prob', fontsize=7)
    ax.set_title(title, fontsize=10)
    ax.tick_params(labelsize=7)
    mark_rounds(ax, 0.968)
    ax.legend(loc='upper right', ncol=4, fontsize=6)


draw_prob(axes[0], sf_upper, sf_lower,
          'SEBASTIAN FUNDORA — Total Strikes Landed R6 Under Leadup (R4-R6) (Event 16256)')
draw_prob(axes[1], kt_upper, kt_lower,
          'KEITH THURMAN — Total Strikes Landed R6 Under Leadup (R4-R6) (Event 16256)')

# counts panel
ax = axes[2]
ax.fill_between(fight_time, sf_band_lo, sf_band_hi, color='red', alpha=0.15)
ax.fill_between(fight_time, kt_band_lo, kt_band_hi, color='blue', alpha=0.15)
sns.lineplot(x=fight_time, y=sf_truth, ax=ax, color='red', linewidth=1.8, alpha=0.7,
             estimator=None, sort=False, errorbar=None, legend=False)
sns.lineplot(x=fight_time, y=kt_truth, ax=ax, color='blue', linewidth=1.8, alpha=0.7,
             estimator=None, sort=False, errorbar=None, legend=False)
sns.lineplot(x=fight_time, y=sf_pred, ax=ax, color='red', linewidth=1.6, alpha=0.6,
             linestyle=':', estimator=None, sort=False, errorbar=None, legend=False)
sns.lineplot(x=fight_time, y=kt_pred, ax=ax, color='blue', linewidth=1.6, alpha=0.6,
             linestyle=':', estimator=None, sort=False, errorbar=None, legend=False)
handles = ax.lines[-4:]
labels = ['Truth SEBASTIAN FUNDORA: 18', 'Truth KEITH THURMAN: 3',
          'Predicted SEBASTIAN FUNDORA: 17.0', 'Predicted KEITH THURMAN: 8.7']
ax.grid(axis='y', color='#cccccc', linewidth=0.8, alpha=0.7)
ax.set_axisbelow(True)
ax.set_ylabel('Count', fontsize=8)
ax.set_xlabel('Fight time (seconds)', fontsize=10)
ax.tick_params(labelsize=7)
mark_rounds(ax, 0.96)
ax.legend(handles, labels, loc='upper left', fontsize=7)

for a in axes[:2]:
    a.set_xlabel('')

plt.savefig('out.png', dpi=150, facecolor='white')
plt.close()
print("saved out.png")
